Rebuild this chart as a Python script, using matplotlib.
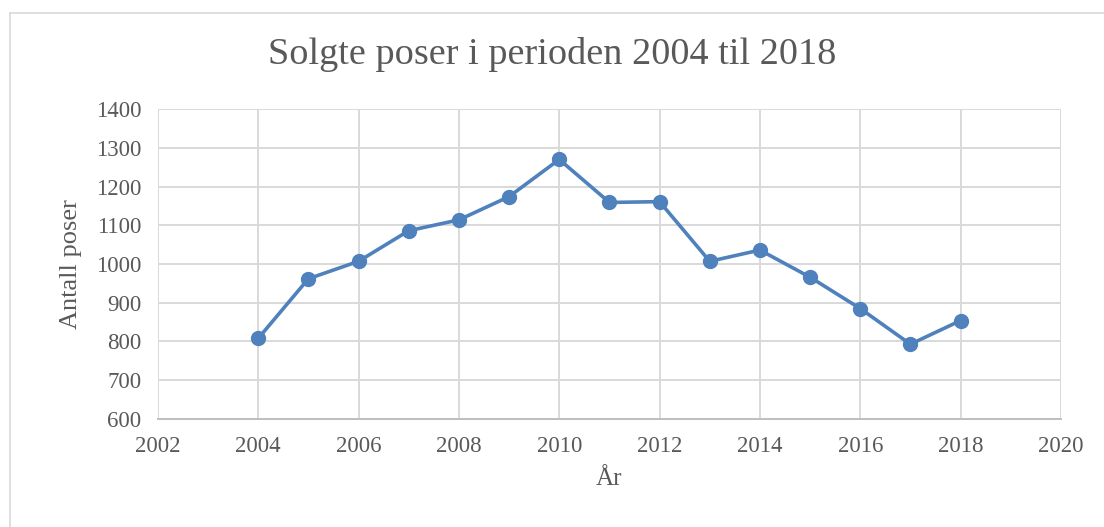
import matplotlib
matplotlib.use('Agg')
import matplotlib.pyplot as plt
from matplotlib.lines import Line2D

years = [2004, 2005, 2006, 2007, 2008, 2009, 2010, 2011,
         2012, 2013, 2014, 2015, 2016, 2017, 2018]
bags = [808, 962, 1007, 1086, 1114, 1174, 1270, 1159,
        1161, 1007, 1036, 966, 885, 793, 854]
x_ticks = list(range(2002, 2021, 2))
y_ticks = list(range(600, 1401, 100))

plt.rcParams['font.family'] = ['Liberation Serif', 'DejaVu Serif']
text_color = '#595959'
grid_color = '#D9D9D9'
line_color = '#4F81BD'

fig = plt.figure(figsize=(11.04, 5.27), dpi=100)
ax = fig.add_axes([0.143, 0.205, 0.818, 0.588])

ax.plot(years, bags, color=line_color, linewidth=2.6, marker='o',
        markersize=10, zorder=3)

ax.set_xlim(2002, 2020)
ax.set_ylim(600, 1400)
ax.set_xticks(x_ticks)
ax.set_yticks(y_ticks)
ax.grid(True, color=grid_color, linewidth=1.4)
ax.set_axisbelow(True)

for side in ['top', 'right', 'left']:
    ax.spines[side].set_visible(False)
ax.spines['bottom'].set_color('#BFBFBF')
ax.spines['bottom'].set_linewidth(1.4)
ax.tick_params(length=0, labelsize=16.5, colors=text_color)
ax.tick_params(axis='y', pad=12)
ax.tick_params(axis='x', pad=12)

ax.set_xlabel('År', fontsize=18, color=text_color, labelpad=8)
ax.set_ylabel('Antall poser', fontsize=19, color=text_color, labelpad=10)
fig.suptitle('Solgte poser i perioden 2004 til 2018', fontsize=27.5,
             color=text_color, y=0.93)

# chart border (only left and top edges are visible)
fig.add_artist(Line2D([10 / 1104, 10 / 1104], [0, 1 - 13 / 527],
                      transform=fig.transFigure, color='#D9D9D9', linewidth=1.2))
fig.add_artist(Line2D([10 / 1104, 1], [1 - 13 / 527, 1 - 13 / 527],
                      transform=fig.transFigure, color='#D9D9D9', linewidth=1.2))

fig.savefig('out.png', dpi=100)
